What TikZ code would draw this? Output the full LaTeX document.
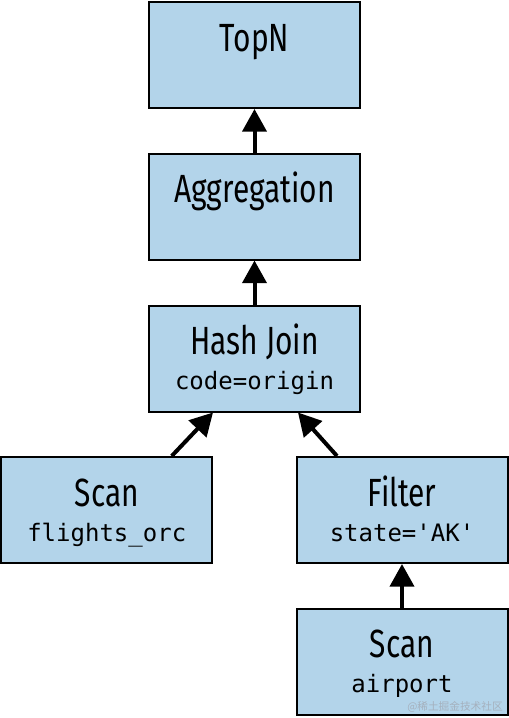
\documentclass[tikz,border=0pt]{standalone}
\usepackage{fontspec}
\setmainfont[FakeStretch=0.76]{Fira Sans}
\setmonofont{DejaVu Sans Mono}
\newfontfamily\cjkfont{Noto Sans CJK SC}
\usetikzlibrary{arrows.meta,calc}
\definecolor{opfill}{RGB}{179,212,234}
\definecolor{markgray}{RGB}{165,177,190}
\tikzset{
  opbox/.style={draw=black,fill=opfill,line width=1.5pt,minimum width=158.25pt,minimum height=79.5pt,inner sep=0pt},
  optitle/.style={anchor=base,inner sep=0.75pt,font=\fontsize{29.5}{33}\selectfont},
  opdetail/.style={anchor=base,inner sep=0.75pt,font=\ttfamily\fontsize{18}{20}\selectfont},
  flow/.style={line width=3pt,-{Triangle[width=18pt,length=17pt]}}
}
\begin{document}
\begin{tikzpicture}[x=0.75pt,y=0.75pt,yscale=-1,xscale=1]
	\useasboundingbox (0,0) rectangle (509,718);
	
	%Shape: Rectangle [TopN]
	\node[opbox] (topn) at (254.5,55) {};
	%Shape: Rectangle [Aggregation]
	\node[opbox] (agg) at (254.5,206.5) {};
	%Shape: Rectangle [Hash Join]
	\node[opbox] (hj) at (254.5,358.5) {};
	%Shape: Rectangle [Scan flights]
	\node[opbox] (scanf) at (106.75,510) {};
	%Shape: Rectangle [Filter]
	\node[opbox] (filter) at (402,510) {};
	%Shape: Rectangle [Scan airport]
	\node[opbox] (scana) at (402,661.5) {};
	
	%Straight Lines
	\draw[flow] (agg.north) -- (topn.south);
	\draw[flow] (hj.north) -- (agg.south);
	\draw[flow] ($(scanf.north)+(65,0)$) -- ($(hj.south)+(-41.5,0)$);
	\draw[flow] ($(filter.north)+(-65,0)$) -- ($(hj.south)+(43.5,0)$);
	\draw[flow] (scana.north) -- (filter.south);
	
	% Text Node
	\node[optitle] (topnlbl) at ($(topn.north)+(0,50)$) {TopN};
	% Text Node
	\node[optitle] (agglbl) at ($(agg.north)+(0,50)$) {Aggregation};
	% Text Node
	\node[optitle] (hjlbl) at ($(hj.north)+(0,50)$) {Hash Join};
	\node[opdetail] (hjcond) at ($(hj.north)+(0,85)$) {code=origin};
	% Text Node
	\node[optitle] (scanflbl) at ($(scanf.north)+(0,50)$) {Scan};
	\node[opdetail] (scanftab) at ($(scanf.north)+(0,85)$) {flights\_orc};
	% Text Node
	\node[optitle] (filterlbl) at ($(filter.north)+(0,50)$) {Filter};
	\node[opdetail] (filtercond) at ($(filter.north)+(0,85)$) {state='AK'};
	% Text Node
	\node[optitle] (scanalbl) at ($(scana.north)+(0,50)$) {Scan};
	\node[opdetail] (scanatab) at ($(scana.north)+(0,85)$) {airport};
	
	% Text Node
	\node[anchor=east,inner sep=0.75pt,text=markgray,font=\cjkfont\fontsize{8}{9}\selectfont] (mark) at (504,707) {@稀土掘金技术社区};
\end{tikzpicture}
\end{document}
